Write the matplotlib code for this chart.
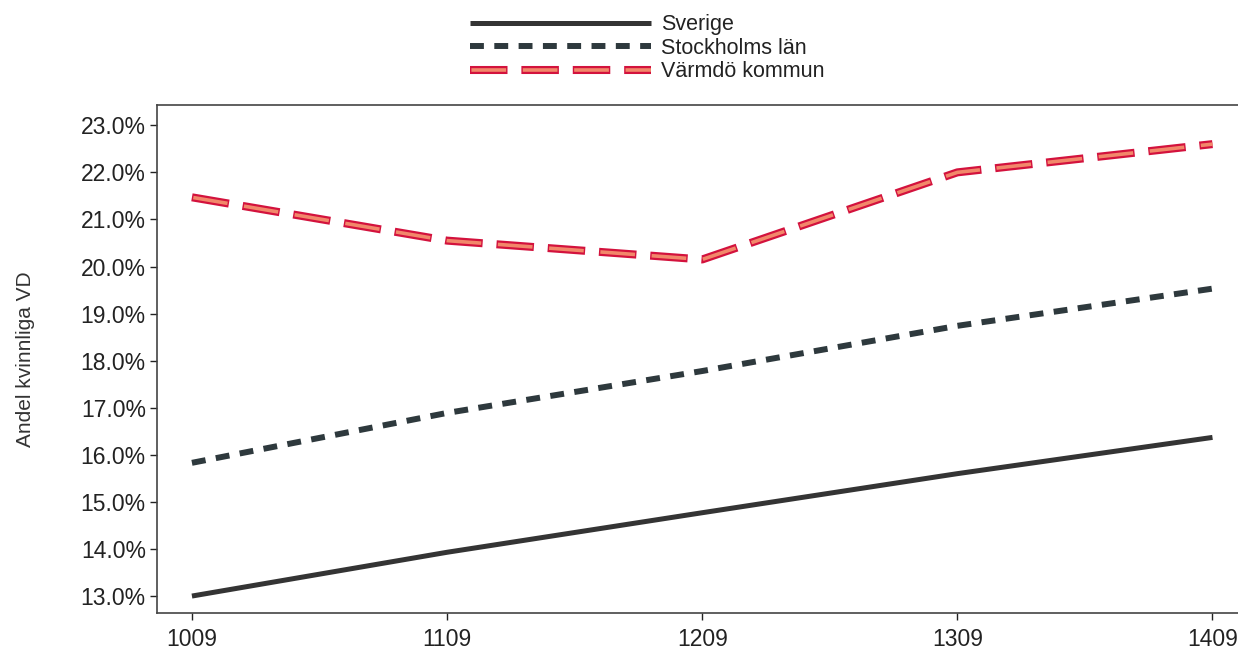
import matplotlib.pyplot as plt
from matplotlib.ticker import FuncFormatter

plt.rcParams['font.family'] = ['Liberation Sans', 'DejaVu Sans']
plt.rcParams['lines.scale_dashes'] = False

# data
perioder = ['1009', '1109', '1209', '1309', '1409']
sverige = [13.0, 13.93, 14.77, 15.6, 16.37]
stockholm = [15.83, 16.89, 17.78, 18.74, 19.53]
varmdo = [21.47, 20.55, 20.15, 22.0, 22.6]

x = list(range(len(perioder)))

fig = plt.figure(figsize=(12.38, 6.59), dpi=100)
ax = fig.add_axes([0.1268, 0.0698, 0.8732, 0.7708])

l1, = ax.plot(x, sverige, color='#343434', lw=3.6, solid_capstyle='butt')
l2, = ax.plot(x, stockholm, color='#2e393d', lw=4.3, linestyle=(0, (10, 7.5)), dash_capstyle='butt')
# Värmdö: röd kant med laxfärgad kärna
l3a, = ax.plot(x, varmdo, color='#d3123d', lw=5.8, linestyle=(0, (27, 10)), dash_capstyle='butt')
l3b, = ax.plot(x, varmdo, color='#f2876a', lw=2.6, linestyle=(36, (25, 12)), dash_capstyle='butt')

ax.set_xlim(-0.137, 4.1)
ax.set_ylim(12.64, 23.43)
ax.set_xticks(x)
ax.set_xticklabels(perioder)
ax.set_yticks([13, 14, 15, 16, 17, 18, 19, 20, 21, 22, 23])
ax.yaxis.set_major_formatter(FuncFormatter(lambda v, p: f'{v:.1f}%'))
ax.tick_params(labelsize=16.5, colors='#222222', length=5, width=1)
ax.tick_params(axis='x', pad=6)
ax.tick_params(axis='y', pad=3)
for s in ['left', 'bottom', 'top']:
    ax.spines[s].set_color('#444444')
    ax.spines[s].set_linewidth(1.2)
ax.spines['right'].set_visible(False)

ax.set_ylabel('Andel kvinnliga VD', fontsize=15, color='#333333')
ax.yaxis.set_label_coords(-0.113, 0.5)

leg = fig.legend([l1, l2, (l3a, l3b)], ['Sverige', 'Stockholms län', 'Värmdö kommun'],
                 loc='upper center', bbox_to_anchor=(0.523, 1.008), frameon=False,
                 fontsize=15.5, handlelength=8.4, handletextpad=0.45, labelspacing=0.12)
for t in leg.get_texts():
    t.set_color('#222222')

fig.savefig('out.png', dpi=100)
